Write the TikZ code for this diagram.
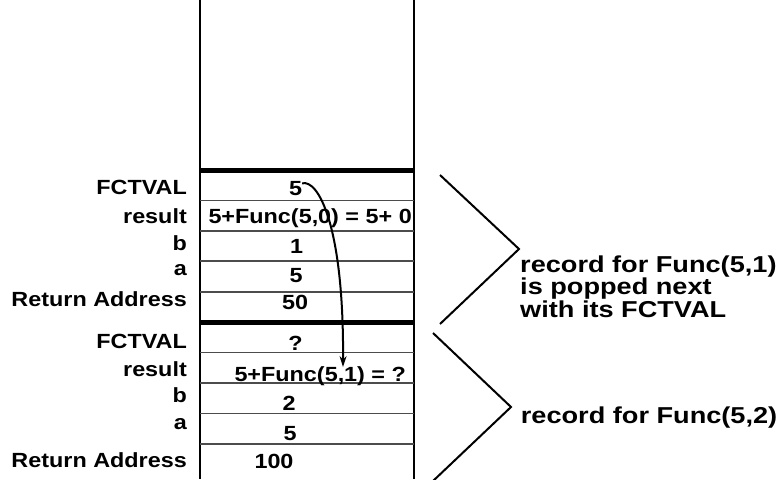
\documentclass[tikz,border=0pt]{standalone}
\usepackage{fontspec}
\usepackage{graphicx}
\setmainfont{Liberation Sans}
\usetikzlibrary{arrows.meta}
% slightly widened lettering
\newcommand\lblw[1]{\scalebox{1.14}[1]{#1}}
\newcommand\notew[1]{\scalebox{1.18}[1]{#1}}

\begin{document}
\begin{tikzpicture}[x=1pt,y=-1pt,
  lbl/.style={anchor=base east, inner sep=0pt, font=\fontsize{20.5}{24}\selectfont\bfseries},
  val/.style={anchor=base, inner sep=0pt, font=\fontsize{20.5}{24}\selectfont\bfseries},
  valw/.style={anchor=base west, inner sep=0pt, font=\fontsize{20.5}{24}\selectfont\bfseries},
  note/.style={anchor=base west, inner sep=0pt, font=\fontsize{23}{26}\selectfont\bfseries},
  wall/.style={line width=2pt},
  rowline/.style={line width=1.2pt, draw=black!70},
  frameline/.style={line width=5pt},
  brace/.style={line width=2pt, line join=miter},
  link/.style={line width=2pt, -{Stealth[length=11pt,width=7pt]}}
]
\useasboundingbox (0,0) rectangle (784,479);
\fill[white] (0,0) rectangle (784,479);

% stack walls
\draw[wall] (200,0) -- (200,479);
\draw[wall] (414,0) -- (414,479);

% cell separators
\foreach \y in {200.7,231,261,292,352.7,383,413.3,444}
  \draw[rowline] (200,\y) -- (414,\y);

% record boundaries
\draw[frameline] (200,170) -- (414,170);
\draw[frameline] (200,322.5) -- (414,322.5);

% field names, upper record
\node[lbl] (l1) at (187,194.5) {\lblw{FCTVAL}};
\node[lbl] (l2) at (187,223) {\lblw{result}};
\node[lbl] (l3) at (187,250.5) {\lblw{b}};
\node[lbl] (l4) at (187,275) {\lblw{a}};
\node[lbl] (l5) at (187,306.5) {\lblw{Return Address}};
% field names, lower record
\node[lbl] (m1) at (187,348.5) {\lblw{FCTVAL}};
\node[lbl] (m2) at (187,376.5) {\lblw{result}};
\node[lbl] (m3) at (187,402.5) {\lblw{b}};
\node[lbl] (m4) at (187,429) {\lblw{a}};
\node[lbl] (m5) at (187,467.3) {\lblw{Return Address}};

% values, upper record
\node[val] (v1) at (295.5,195.3) {\lblw{5}};
\node[valw] (v2) at (208.3,223.3) {\lblw{5+Func(5,0) = 5+ 0}};
\node[val] (v3) at (296.5,253.3) {\lblw{1}};
\node[val] (v4) at (296,282.3) {\lblw{5}};
\node[val] (v5) at (295,309.3) {\lblw{50}};
% values, lower record
\node[val] (w1) at (295.5,350.3) {\lblw{?}};
\node[valw] (w2) at (234.3,381.3) {\lblw{5+Func(5,1) = ?}};
\node[val] (w3) at (289,410.3) {\lblw{2}};
\node[val] (w4) at (290,440.3) {\lblw{5}};
\node[val] (w5) at (274,468.3) {\lblw{100}};

% record braces
\draw[brace] (440,175) -- (519,249) -- (440,324);
\draw[brace] (433,333) -- (511,407) -- (433,481);

% notes
\node[note] (n1) at (520,272) {\notew{record for Func(5,1)}};
\node[note] (n2) at (520,294.5) {\notew{is popped next}};
\node[note] (n3) at (520,317) {\notew{with its FCTVAL}};
\node[note] (n4) at (520.7,423.5) {\notew{record for Func(5,2)}};

% returned value flows into the caller's result
\coordinate (tip) at (343,367);
\draw[link] ([yshift=5pt]v1.east) .. controls (318,179) and (344,225) .. (tip);
\end{tikzpicture}
\end{document}
